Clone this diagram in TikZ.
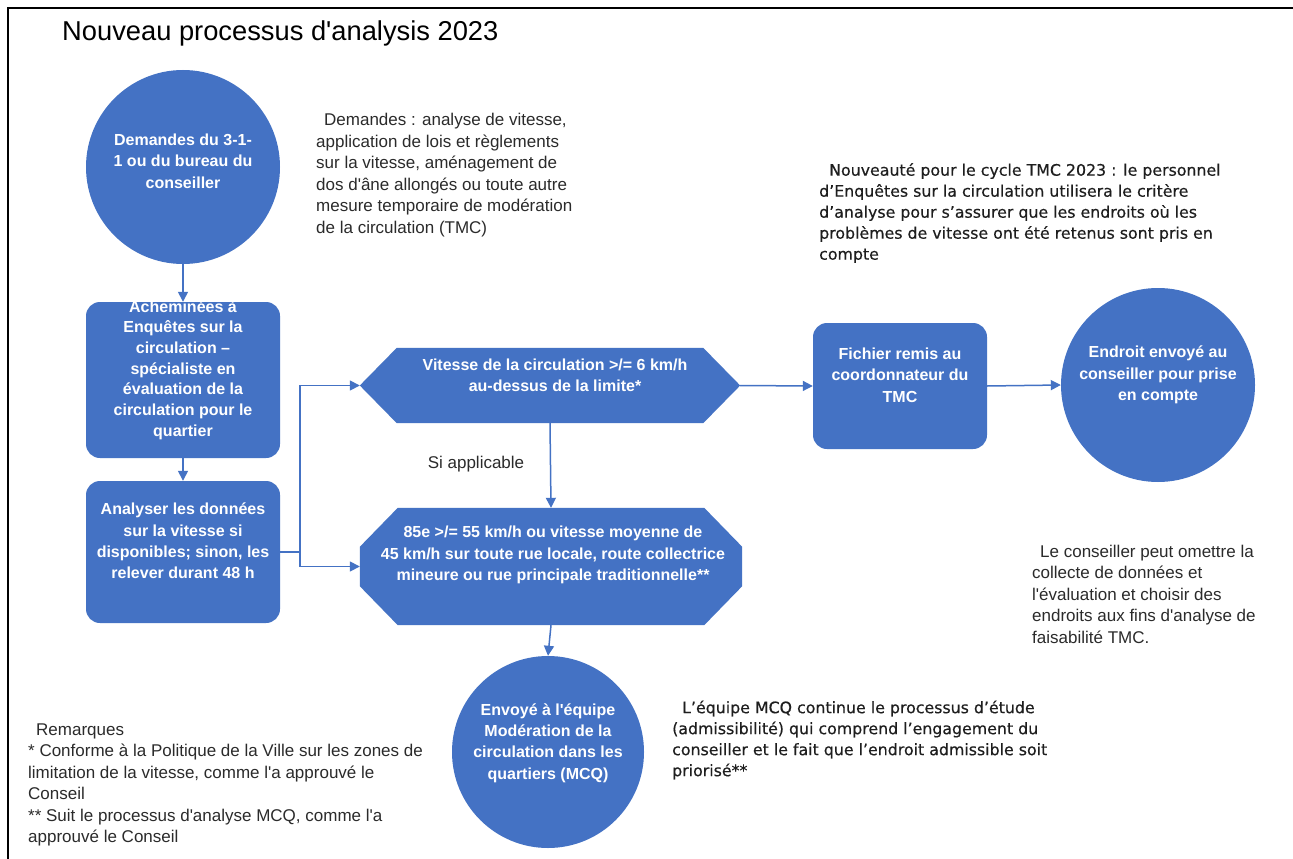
\documentclass[tikz,border=0pt]{standalone}
\usepackage{fontspec}
\setmainfont{Liberation Sans}[Ligatures=TeXOff]
\newfontfamily\verd{DejaVu Sans}[FakeBold=0.4]
\usetikzlibrary{arrows.meta}
\definecolor{mblue}{HTML}{4472C4}
\definecolor{tgray}{HTML}{2B2B2B}
\definecolor{tdark}{HTML}{1E1E1E}
\begin{document}
\begin{tikzpicture}[x=1pt,y=-1pt,
  shapefill/.style={fill=mblue, draw=none},
  circ/.style={shapefill, circle, minimum size=194pt, inner sep=0pt},
  rbox/.style={shapefill, rectangle, rounded corners=14pt, inner sep=0pt},
  ghost/.style={draw=none, inner sep=0pt},
  wtext/.style={text=white, font=\fontsize{16}{21.3}\selectfont\bfseries, align=center, inner sep=0pt},
  gtext/.style={text=tgray, font=\fontsize{17}{21.5}\selectfont, align=left, inner sep=0pt, anchor=west},
  vtext/.style={text=tdark, font=\verd\fontsize{15.8}{21}\selectfont, align=left, inner sep=0pt, anchor=west},
  conn/.style={draw=mblue, line width=1.5pt, -{Triangle[length=10pt,width=10pt]}},
  plain/.style={draw=mblue, line width=1.5pt},
]
\useasboundingbox (0,0) rectangle (1293,859);
\fill[white] (0,0) rectangle (1293,859);
% frame
\draw[line width=2.5pt, black] (8,859) -- (8,8) -- (1293,8);

% title
\node[anchor=base west, inner sep=0pt, font=\fontsize{27.3}{32}\selectfont] (title) at (62,41) {Nouveau processus d'analysis 2023};

% shapes
\node[circ] (c1) at (183,167) {};
\node[rbox, minimum width=194pt, minimum height=156pt] (r1) at (183,380) {};
\node[rbox, minimum width=194pt, minimum height=142pt] (r2) at (183,552) {};
\node[ghost, minimum width=380pt, minimum height=75pt] (hA) at (550,385.5) {};
\fill[mblue] (hA.west) -- ([xshift=37pt]hA.north west) -- ([xshift=-37pt]hA.north east) -- (hA.east) -- ([xshift=-37pt]hA.south east) -- ([xshift=37pt]hA.south west) -- cycle;
\node[ghost, minimum width=382pt, minimum height=117pt] (hB) at (551,566.5) {};
\fill[mblue] ([xshift=38pt]hB.north west) -- ([xshift=-38pt]hB.north east) -- ([yshift=-39pt]hB.north east) -- ([yshift=39pt]hB.south east) -- ([xshift=-38pt]hB.south east) -- ([xshift=38pt]hB.south west) -- ([yshift=39pt]hB.south west) -- ([yshift=-39pt]hB.north west) -- cycle;
\node[circ, minimum size=192pt] (c3) at (548,752) {};
\node[rbox, minimum width=174pt, minimum height=126pt] (r3) at (900,386) {};
\node[circ] (c4) at (1158,385) {};

% white texts
\node[wtext] (t1) at (183,161) {Demandes du 3-1-\\1 ou du bureau du\\conseiller};
\node[wtext, font=\fontsize{16}{20.7}\selectfont\bfseries] (t2) at (183,370) {Acheminées à\\Enquêtes sur la\\circulation –\\spécialiste en\\évaluation de la\\circulation pour le\\quartier};
\node[wtext] (t3) at (183,541) {Analyser les données\\sur la vitesse si\\disponibles; sinon, les\\relever durant 48 h};
\node[wtext] (t4) at (555,375) {Vitesse de la circulation >/= 6 km/h\\au-dessus de la limite*};
\node[wtext] (t5) at (553,555) {85e >/= 55 km/h ou vitesse moyenne de\\45 km/h sur toute rue locale, route collectrice\\mineure ou rue principale traditionnelle**};
\node[wtext] (t6) at (900,375) {Fichier remis au\\coordonnateur du\\TMC};
\node[wtext] (t7) at (1158,375) {Endroit envoyé au\\conseiller pour prise\\en compte};
\node[wtext] (t8) at (548,743) {Envoyé à l'équipe\\Modération de la\\circulation dans les\\quartiers (MCQ)};

% gray texts
\node[gtext] (g1) at (316,175) {\hspace{8pt}Demandes : analyse de vitesse,\\application de lois et règlements\\sur la vitesse, aménagement de\\dos d'âne allongés ou toute autre\\mesure temporaire de modération\\de la circulation (TMC)};
\node[gtext, anchor=center] (g2) at (476,464) {Si applicable};
\node[gtext] (g3) at (1032,594) {\hspace{8pt}Le conseiller peut omettre la\\collecte de données et\\l'évaluation et choisir des\\endroits aux fins d'analyse de\\faisabilité TMC.};
\node[gtext] (g4) at (28,785) {\hspace{8pt}Remarques\\* Conforme à la Politique de la Ville sur les zones de\\limitation de la vitesse, comme l'a approuvé le\\Conseil\\** Suit le processus d'analyse MCQ, comme l'a\\approuvé le Conseil};
\node[vtext] (v1) at (819,213) {\hspace{10pt}Nouveauté pour le cycle TMC 2023 : le personnel\\d’Enquêtes sur la circulation utilisera le critère\\d’analyse pour s’assurer que les endroits où les\\problèmes de vitesse ont été retenus sont pris en\\compte};
\node[vtext] (v2) at (672,740) {\hspace{10pt}L’équipe MCQ continue le processus d’étude\\(admissibilité) qui comprend l’engagement du\\conseiller et le fait que l’endroit admissible soit\\priorisé**};

% connectors
\coordinate (split) at (300,552);
\draw[conn] (c1) -- (r1);
\draw[conn] (r1) -- (r2);
\draw[plain] (r2.east) -- (split);
\draw[conn] (split) |- (hA.west);
\draw[conn] (split) |- (hB.west);
\draw[conn] (hA.south) -- (hB.north);
\draw[conn] (hB.south) -- (c3.north);
\draw[conn] (hA.east) -- (r3.west);
\draw[conn] (r3.east) -- (c4.west);
\end{tikzpicture}
\end{document}
